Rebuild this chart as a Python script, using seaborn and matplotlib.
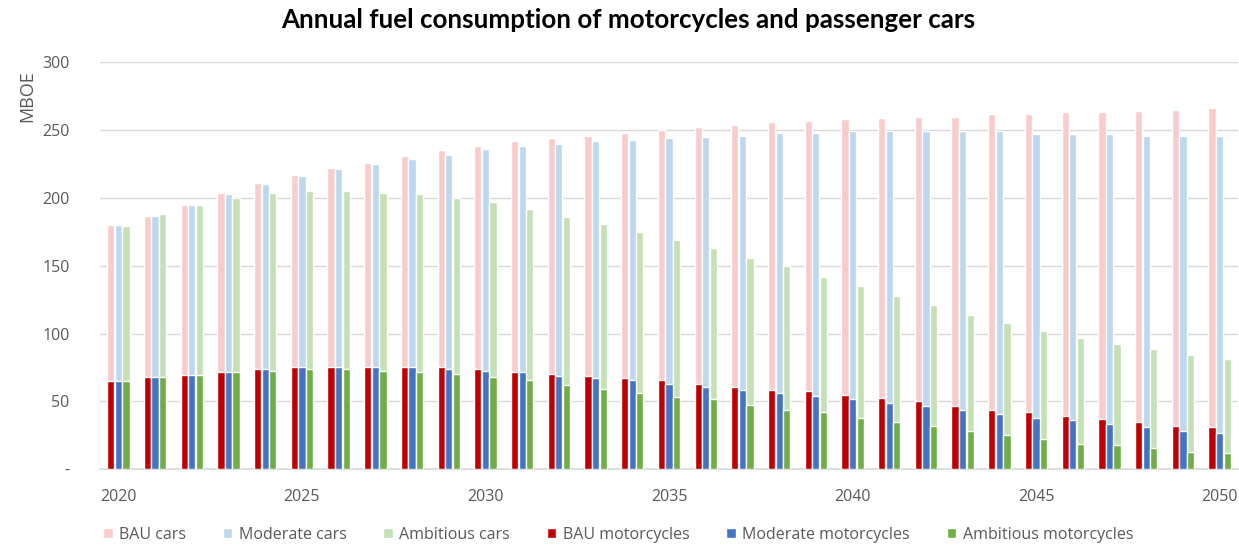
import numpy as np
import pandas as pd
import matplotlib
matplotlib.use("Agg")
import matplotlib.pyplot as plt
from matplotlib.patches import Patch
import seaborn as sns

years = list(range(2020, 2051))

bau_cars = [180, 187, 195, 204, 211, 217, 222, 226, 231, 235, 238, 242, 244, 246, 248, 250,
            252, 254, 256, 257, 258, 259, 260, 260, 262, 262, 263, 263, 264, 265, 266]
moderate_cars = [180, 187, 195, 203, 210, 216, 221, 225, 229, 232, 236, 238, 240, 242, 243, 244,
                 245, 246, 248, 248, 249, 249, 249, 249, 249, 247, 247, 247, 246, 246, 246]
ambitious_cars = [179, 188, 195, 200, 204, 205, 205, 204, 203, 200, 197, 192, 186, 181, 175, 169,
                  163, 156, 150, 142, 135, 128, 121, 114, 108, 102, 97, 92, 89, 84, 81]
bau_moto = [65, 68, 69.5, 71.5, 74, 75.5, 75.5, 75.5, 75.5, 75.5, 74, 71.5, 70.5, 69, 67, 65.5,
            63, 61, 58.5, 57.5, 55, 52.5, 50, 46.5, 44, 42, 39.5, 37, 34.5, 32, 31]
moderate_moto = [65, 68, 69.5, 71.5, 74, 75.5, 75.5, 75.5, 75.5, 74, 72.5, 71.5, 69, 67, 65.5, 63,
                 61, 58.5, 56, 54, 51.5, 49, 46.5, 44, 40.5, 38, 36, 33.5, 31, 28.5, 26.5]
ambitious_moto = [65, 68, 69.5, 71.5, 72.5, 74, 74, 72.5, 71.5, 70.5, 68, 65.5, 62, 59.5, 56, 53.5,
                  51.5, 47.5, 44, 42, 38, 34.5, 32, 28.5, 25, 22.5, 19, 18, 15.5, 13, 12]

car_labels = ["BAU cars", "Moderate cars", "Ambitious cars"]
moto_labels = ["BAU motorcycles", "Moderate motorcycles", "Ambitious motorcycles"]
car_colors = ["#F9CBCB", "#BDD7EE", "#C5E0B4"]
moto_colors = ["#C00000", "#4472C4", "#70AD47"]

cars_df = pd.DataFrame({
    "year": [str(y) for y in years] * 3,
    "value": bau_cars + moderate_cars + ambitious_cars,
    "series": sum([[l] * len(years) for l in car_labels], []),
})
moto_df = pd.DataFrame({
    "year": [str(y) for y in years] * 3,
    "value": bau_moto + moderate_moto + ambitious_moto,
    "series": sum([[l] * len(years) for l in moto_labels], []),
})

sns.set_theme(style="white")
plt.rcParams["font.family"] = ["Open Sans", "DejaVu Sans"]

fig = plt.figure(figsize=(12.39, 5.45), dpi=100)
ax = fig.add_axes([100 / 1239, 1 - 469.3 / 545, 1138 / 1239, (469.3 - 62.3) / 545])

sns.barplot(data=cars_df, x="year", y="value", hue="series", palette=car_colors,
            width=0.62, gap=0.05, ax=ax, legend=False, saturation=1, zorder=2)
sns.barplot(data=moto_df, x="year", y="value", hue="series", palette=moto_colors,
            width=0.62, gap=0.05, ax=ax, legend=False, saturation=1, zorder=3)

ax.set_xlim(-0.5, 30.5)
ax.set_ylim(0, 300)
yt = [0, 50, 100, 150, 200, 250, 300]
ax.set_yticks(yt)
ax.set_yticklabels(["-"] + [str(v) for v in yt[1:]], color="#595959", fontsize=11.5)
xt = list(range(0, 31, 5))
ax.set_xticks(xt)
ax.set_xticklabels([str(years[i]) for i in xt], color="#595959", fontsize=11.5)
ax.tick_params(axis="y", length=0, pad=22)
ax.tick_params(axis="x", length=0, pad=14)
ax.set_xlabel("")
ax.set_ylabel("")
ax.yaxis.grid(True, color="#D9D9D9", linewidth=1)
ax.set_axisbelow(True)
for s in ["top", "right", "left"]:
    ax.spines[s].set_visible(False)
ax.spines["bottom"].set_color("#D9D9D9")

fig.text(27 / 1239, 1 - 96 / 545, "MBOE", rotation=90, ha="center", va="center",
         color="#595959", fontsize=13)
fig.text(628 / 1239, 1 - 20 / 545, "Annual fuel consumption of motorcycles and passenger cars",
         ha="center", va="center", fontsize=18.7, fontweight="bold", color="black",
         family=["Lato", "DejaVu Sans"])

handles = [Patch(facecolor=c, label=l) for c, l in zip(car_colors + moto_colors, car_labels + moto_labels)]
fig.legend(handles=handles, loc="center", bbox_to_anchor=(618 / 1239, 1 - 535 / 545), ncol=6,
           frameon=False, fontsize=11.5, handlelength=0.6, handleheight=0.6, handletextpad=0.4,
           columnspacing=2.3, labelcolor="#595959")

fig.savefig("out.png", dpi=100)
